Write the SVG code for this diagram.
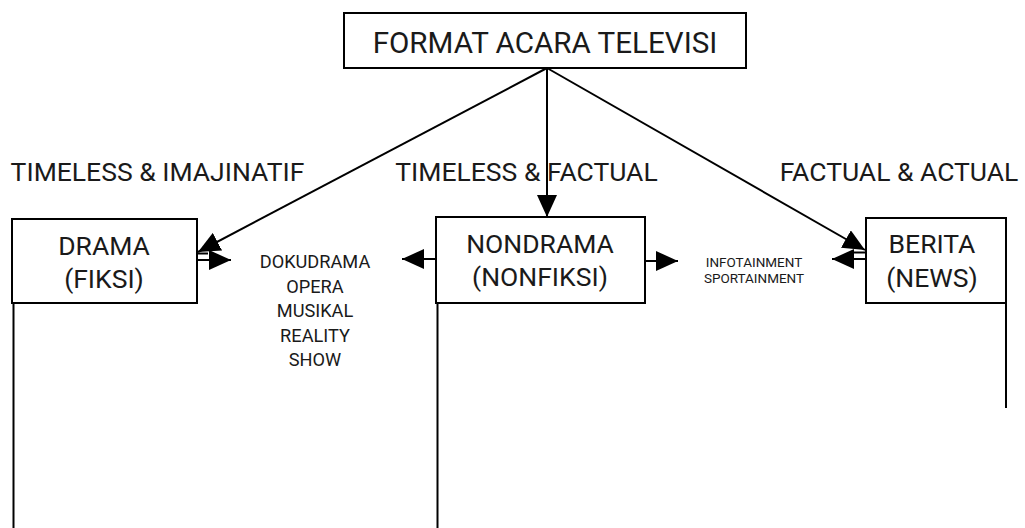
<svg xmlns="http://www.w3.org/2000/svg" width="1025" height="528" viewBox="0 0 1025 528">
<defs>
<style>
.box{fill:#fff;stroke:#000;stroke-width:2}
.ln{fill:none;stroke:#000;stroke-width:2}
.t{font-family:Roboto,"Liberation Sans",sans-serif;fill:#1a1a1a;text-anchor:middle}
.hd{font-size:26.5px}
.nd{font-size:26.5px}
</style>
<marker id="ah" viewBox="0 0 22 20" refX="22" refY="10" markerWidth="22" markerHeight="20" markerUnits="userSpaceOnUse" orient="auto">
<path d="M0,0 L22,10 L0,20 z" fill="#000"/>
</marker>
</defs>
<rect width="1025" height="528" fill="#fff"/>
<g id="connectors">
<line class="ln" x1="547" y1="68" x2="198" y2="252" marker-end="url(#ah)"/>
<line class="ln" x1="547" y1="68" x2="547" y2="217" marker-end="url(#ah)"/>
<line class="ln" x1="547" y1="68" x2="865" y2="250" marker-end="url(#ah)"/>
<line class="ln" x1="197" y1="253.5" x2="208" y2="253.5"/>
<line class="ln" x1="197" y1="260" x2="231" y2="260" marker-end="url(#ah)"/>
<line class="ln" x1="436" y1="259" x2="402" y2="259" marker-end="url(#ah)"/>
<line class="ln" x1="645" y1="261" x2="678" y2="261" marker-end="url(#ah)"/>
<line class="ln" x1="866" y1="252.5" x2="853" y2="252.5"/>
<line class="ln" x1="866" y1="259" x2="832" y2="259" marker-end="url(#ah)"/>
<line class="ln" x1="13.5" y1="277" x2="13.5" y2="528"/>
<line class="ln" x1="437.5" y1="277" x2="437.5" y2="528"/>
<line class="ln" x1="1006" y1="303" x2="1006" y2="408"/>
</g>
<g id="node-format">
<rect class="box" x="344" y="13" width="402" height="55"/>
<text class="t" x="545" y="53" font-size="29.6">FORMAT ACARA TELEVISI</text>
</g>
<g id="node-drama">
<rect class="box" x="12" y="219" width="185" height="84"/>
<text class="t nd" x="104" y="255">DRAMA</text>
<text class="t nd" x="104" y="288">(FIKSI)</text>
</g>
<g id="node-nondrama">
<rect class="box" x="436" y="217" width="209" height="86"/>
<text class="t nd" x="540" y="253">NONDRAMA</text>
<text class="t nd" x="540" y="286">(NONFIKSI)</text>
</g>
<g id="node-berita">
<rect class="box" x="866" y="218" width="140" height="85"/>
<text class="t nd" x="932" y="253">BERITA</text>
<text class="t nd" x="932" y="287">(NEWS)</text>
</g>
<g id="label-imajinatif"><text class="t hd" x="157.5" y="180.5">TIMELESS &amp; IMAJINATIF</text></g>
<g id="label-timeless-factual"><text class="t hd" x="526.5" y="181">TIMELESS &amp; FACTUAL</text></g>
<g id="label-factual-actual"><text class="t hd" x="899" y="180.5">FACTUAL &amp; ACTUAL</text></g>
<g id="list-drama" font-size="18.2">
<text class="t" x="315" y="268">DOKUDRAMA</text>
<text class="t" x="315" y="292.5">OPERA</text>
<text class="t" x="315" y="317">MUSIKAL</text>
<text class="t" x="315" y="341.5">REALITY</text>
<text class="t" x="315" y="366">SHOW</text>
</g>
<g id="list-nondrama" font-size="13.5">
<text class="t" x="754" y="266.5">INFOTAINMENT</text>
<text class="t" x="754" y="283">SPORTAINMENT</text>
</g>
</svg>
